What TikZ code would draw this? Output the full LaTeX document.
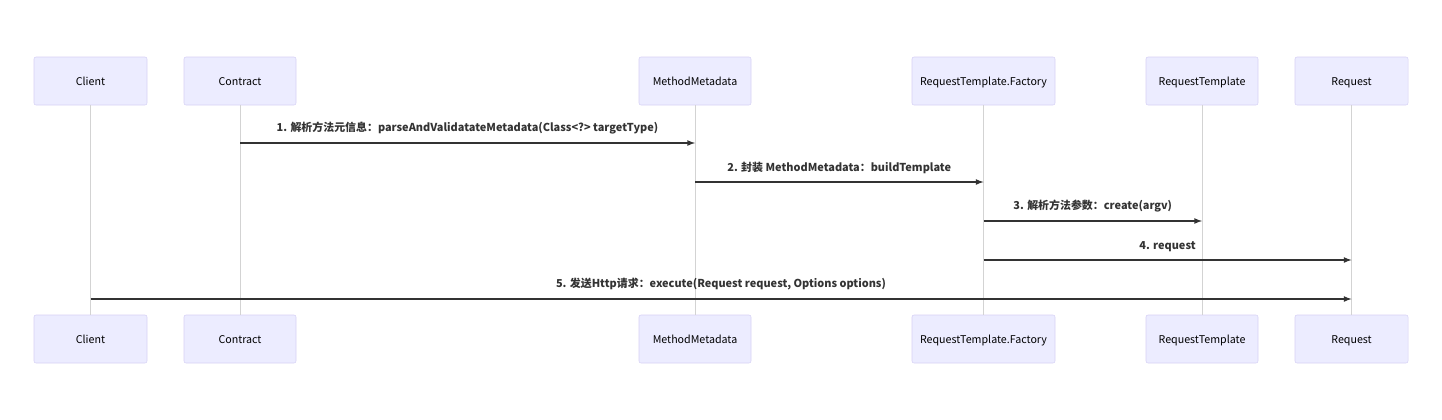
\documentclass[tikz,border=0pt]{standalone}
\usepackage{fontspec}
\setmainfont{Noto Sans CJK SC}

\definecolor{actorfill}{HTML}{ECECFF}
\definecolor{actorline}{HTML}{D6D0F5}
\definecolor{lifeline}{HTML}{D3D3D3}
\definecolor{msgline}{HTML}{333333}

\begin{document}
\begin{tikzpicture}[x=0.75pt, y=-0.75pt,
    actor/.style={draw=actorline, fill=actorfill, rounded corners=1.5pt,
        minimum height=36pt, inner sep=0pt, text=black,
        text height=1.5ex, text depth=0.3ex,
        font=\fontsize{8}{9}\selectfont},
    life/.style={draw=lifeline, line width=0.6pt},
    msg/.style={draw=msgline, line width=1pt, -latex},
    msglabel/.style={font=\bfseries\fontsize{8.2}{10}\selectfont,
        text=msgline, inner sep=1pt, above=5pt}]
    \useasboundingbox (0,0) rectangle (1442,419);

    % Draw actors and lifelines
    \foreach \n/\x/\w/\t in {client/90.5/113/Client,
                             contract/240/112/Contract,
                             meta/695/112/MethodMetadata,
                             factory/983.5/143/RequestTemplate.Factory,
                             tmpl/1202/112/RequestTemplate,
                             req/1351.5/113/Request} {
        \node [actor, minimum width=\w*0.75pt] (\n-top) at (\x, 81) {\t};
        \node [actor, minimum width=\w*0.75pt] (\n-bot) at (\x, 339) {\t};
        \draw [life] (\n-top) -- (\n-bot);
    }

    % Message levels
    \coordinate (m1) at (0, 143);
    \coordinate (m2) at (0, 182);
    \coordinate (m3) at (0, 221);
    \coordinate (m4) at (0, 260);
    \coordinate (m5) at (0, 299);

    % Draw messages
    \draw [msg] (contract-top |- m1) -- (meta-top |- m1)
        node [msglabel, midway] {1. 解析方法元信息：parseAndValidatateMetadata(Class<?> targetType)};
    \draw [msg] (meta-top |- m2) -- (factory-top |- m2)
        node [msglabel, midway] {2. 封装 MethodMetadata：buildTemplate};
    \draw [msg] (factory-top |- m3) -- (tmpl-top |- m3)
        node [msglabel, midway] {3. 解析方法参数：create(argv)};
    \draw [msg] (factory-top |- m4) -- (req-top |- m4)
        node [msglabel, midway] {4. request};
    \draw [msg] (client-top |- m5) -- (req-top |- m5)
        node [msglabel, midway] {5. 发送Http请求：execute(Request request, Options options)};
\end{tikzpicture}
\end{document}
